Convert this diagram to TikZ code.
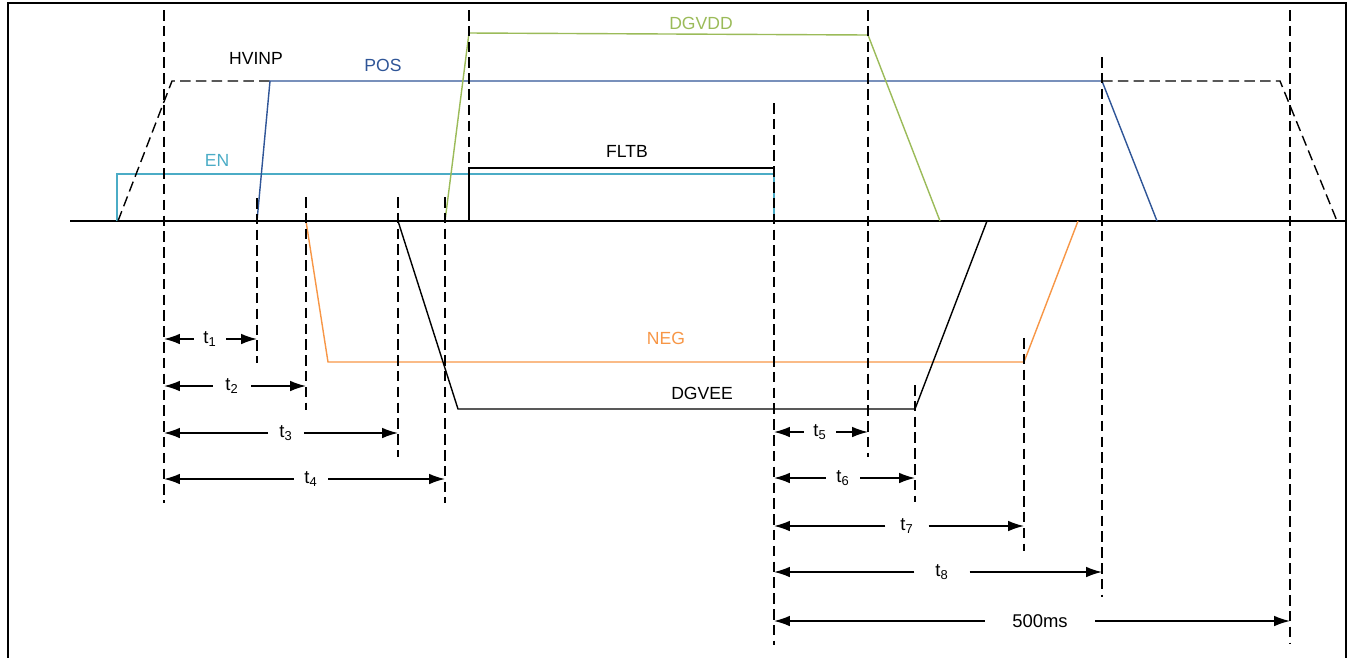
\documentclass[tikz,border=0pt]{standalone}
\usepackage{fontspec}
\setmainfont{Liberation Sans}
\usetikzlibrary{arrows.meta, calc, positioning}

\definecolor{posblue}{RGB}{47,85,151}
\definecolor{encyan}{RGB}{75,172,198}
\definecolor{vddgreen}{RGB}{155,187,89}
\definecolor{negorange}{RGB}{247,150,70}

\tikzset{
	every node/.style={
		font=\fontsize{10}{12}\selectfont
	},
	marker/.style={
		black,
		line width=0.8pt,
		dash pattern=on 6pt off 3pt
	},
	signal/.style={
		line width=0.8pt
	},
	span/.style={
		-{Latex[length=9pt,width=6pt]},
		line width=0.85pt
	},
	spanlabel/.style={
		inner ysep=1pt,
		font=\fontsize{10.5}{12}\selectfont
	}
}

\begin{document}
\begin{tikzpicture}[x=0.02cm,y=-0.02cm]
	
	\useasboundingbox (0,0) rectangle (1353,657);
	\draw[line width=0.9pt] (8,3) rectangle (1346,662);
	
	% axis
	\draw[line width=0.8pt] (70,221) -- (1345,221);
	
	% signals
	\draw[signal, encyan] (117,221) -- (117,174) -- (774,174) -- (774,221);
	\draw[marker] (118,221) -- (172,81) -- (270,81);
	\draw[marker] (1102,81) -- (1280,81) -- (1337,221);
	\draw[signal, posblue] (257,221) -- (270,81) -- (1102,81) -- (1157,221);
	\draw[signal, black] (469,221) |- (774,168);
	\draw[signal, vddgreen] (445,221) -- (469,33) -- (868,35) -- (940,221);
	\draw[signal, negorange] (306,221) -- (328,362) -- (1024,362) -- (1078,221);
	\draw[signal, black] (398,221) -- (458,409) -- (915,409) -- (987,221);
	
	\node (hvinp) at (256,58) {HVINP};
	\node[text=posblue] (pos) at (383,65) {POS};
	\node[text=encyan] (en) at (217,160) {EN};
	\node (fltb) at (627,151) {FLTB};
	\node[text=vddgreen] (dgvdd) at (701,23) {DGVDD};
	\node[text=negorange] (neg) at (666,338) {NEG};
	\node (dgvee) at (702,393) {DGVEE};
	
	% time markers
	\foreach \name/\x/\ya/\yb in {m1/164/10/503, m2/257/198/363, m3/306/197/410,
		m4/398/197/457, m5/445/197/503, m6/469/10/168, m7/774/103/645,
		m8/868/10/457, m9/915/385/502, m10/1024/338/551, m11/1102/57/597,
		m12/1290/10/643} {
		\draw[marker] (\x,\ya) -- (\x,\yb) coordinate (\name);
	}
	
	% intervals
	\foreach \lab/\txt/\x/\y/\sep/\from/\to in {
		t1/{t\textsubscript{1}}/210/339/5.2/m1/m2,
		t2/{t\textsubscript{2}}/232/386/7/m1/m3,
		t3/{t\textsubscript{3}}/286/433/6.2/m1/m4,
		t4/{t\textsubscript{4}}/311/479/6/m1/m5,
		t5/{t\textsubscript{5}}/820/432/5.3/m7/m8,
		t6/{t\textsubscript{6}}/843/478/6/m7/m9,
		t7/{t\textsubscript{7}}/907/526/8.3/m7/m10,
		t8/{t\textsubscript{8}}/942/572/11.8/m7/m11,
		t9/{500ms}/1040/621/15.5/m7/m12} {
		\node[spanlabel, inner xsep=\sep pt] (\lab) at (\x,\y) {\txt};
		\draw[span] (\lab.west) -- (\lab.west -| \from);
		\draw[span] (\lab.east) -- (\lab.east -| \to);
	}
	
\end{tikzpicture}
\end{document}
